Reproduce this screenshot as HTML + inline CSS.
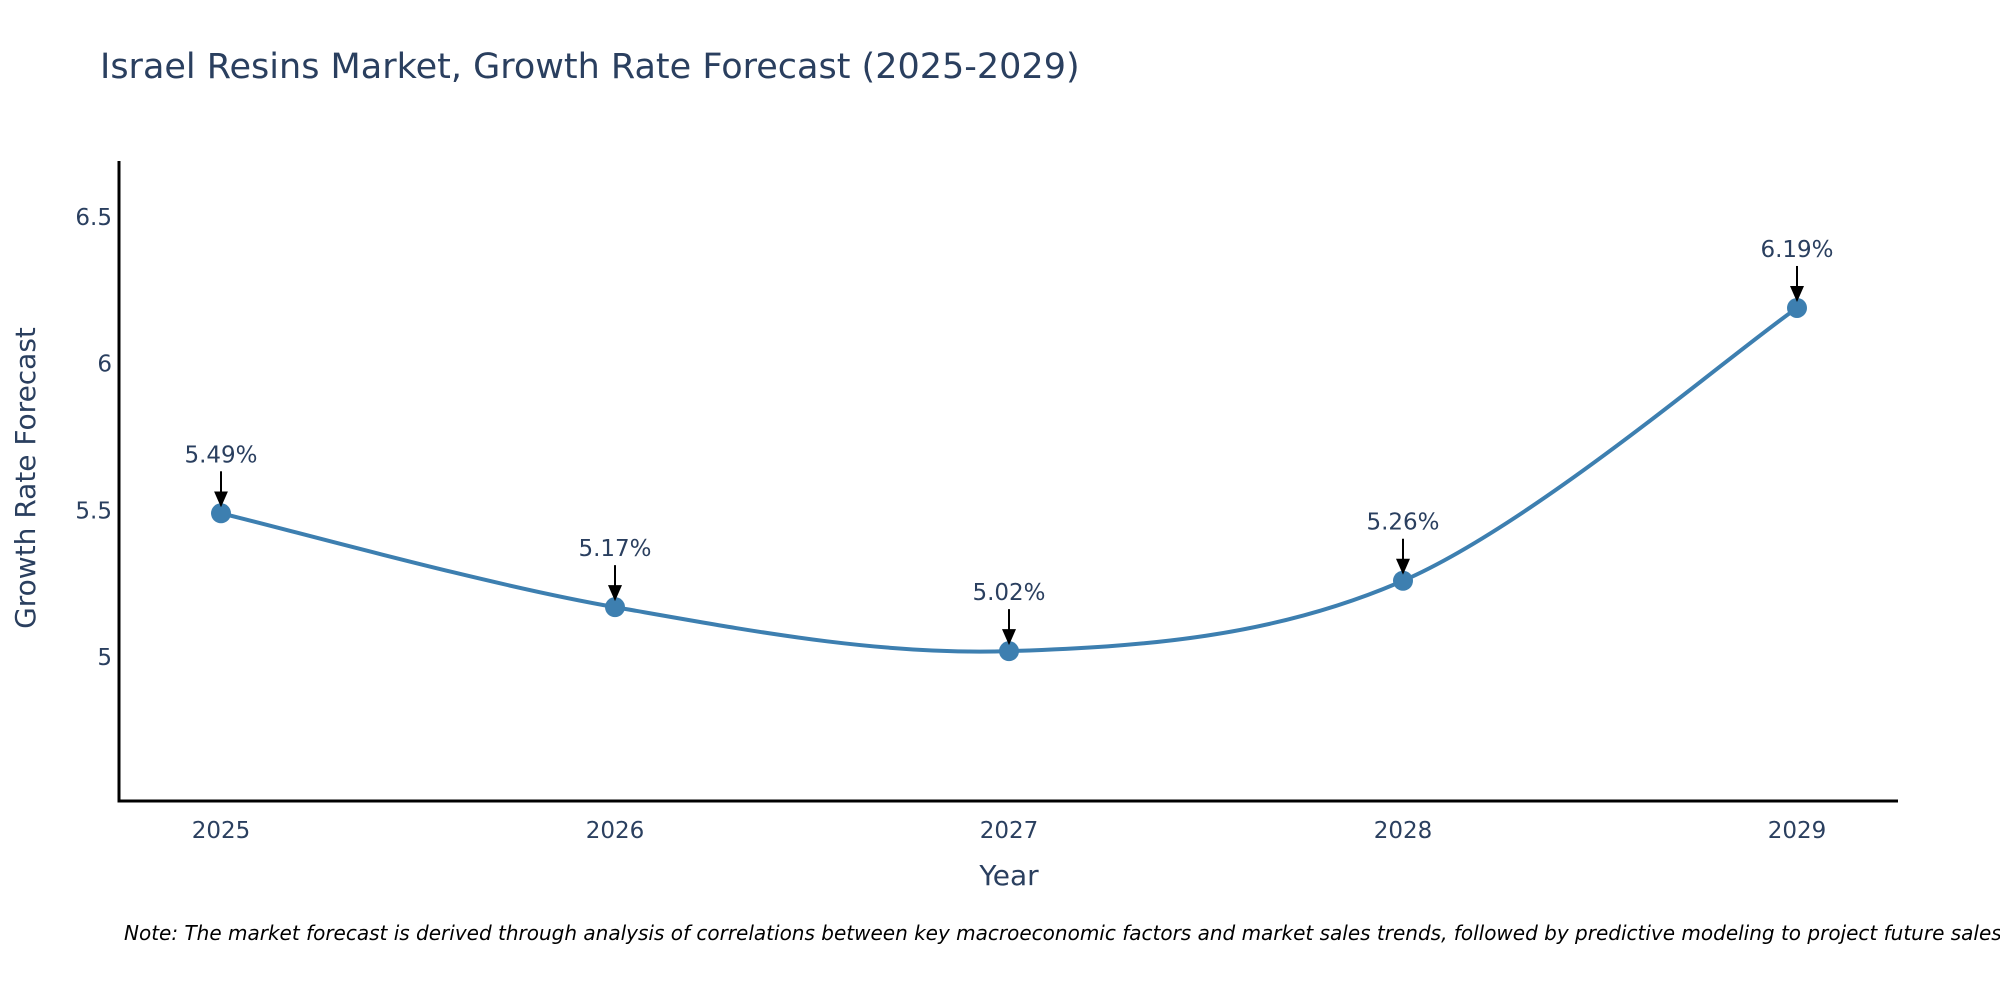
<!DOCTYPE html>
<html><head><meta charset="utf-8"><style>
body{margin:0;background:#fff}
svg text{font-family:"DejaVu Sans","Liberation Sans",sans-serif;fill:#2a3f5f}
</style></head><body>
<svg width="2000" height="1000" viewBox="0 0 2000 1000" xmlns="http://www.w3.org/2000/svg">
<defs><marker id="ah" markerWidth="16" markerHeight="16" refX="14" refY="8" orient="auto" markerUnits="userSpaceOnUse" viewBox="0 0 16 16"><path d="M0,1 L16,8 L0,15 z" fill="#000"/></marker></defs>
<text x="100" y="78" font-size="35">Israel Resins Market, Growth Rate Forecast (2025-2029)</text>
<g id="plot"></g>
<text x="1009" y="885" font-size="28" text-anchor="middle">Year</text>
<text transform="translate(35,478) rotate(-90)" font-size="28" text-anchor="middle">Growth Rate Forecast</text>
<text x="124" y="940" font-size="20" font-style="italic" style="fill:#000">Note: The market forecast is derived through analysis of correlations between key macroeconomic factors and market sales trends, followed by predictive modeling to project future sales.</text>
</svg>
<script>
const years=[2025,2026,2027,2028,2029];
const values=[5.49,5.17,5.02,5.26,6.19];
const labels=["5.49%","5.17%","5.02%","5.26%","6.19%"];
const yTicks=[5,5.5,6,6.5];
const NS="http://www.w3.org/2000/svg";
const X0=119,X1=1898,Y0=801,Y1=161;
const xs=v=>221+(v-2025)*394;
const ys=v=>657-(v-5)*293.3;
const g=document.getElementById('plot');
function mk(t,a,p){const e=document.createElementNS(NS,t);for(const k in a)e.setAttribute(k,a[k]);(p||g).appendChild(e);return e;}
let ax=mk('path',{d:`M${X0},${Y1} L${X0},${Y0} L${X1},${Y0}`,fill:'none',stroke:'#000','stroke-width':3});


yTicks.forEach(t=>{const e=mk('text',{x:112,y:ys(t)+8,'font-size':23,'text-anchor':'end'});e.textContent=String(t);

});
years.forEach(y=>{const e=mk('text',{x:xs(y),y:838,'font-size':23,'text-anchor':'middle'});e.textContent=String(y);

});
const P=years.map((y,i)=>[xs(y),ys(values[i])]);
let d=`M${P[0][0]},${P[0][1]}`;
for(let i=0;i<P.length-1;i++){const p0=P[i-1]||P[i],p1=P[i],p2=P[i+1],p3=P[i+2]||P[i+1];const k=1/6;
d+=` C${p1[0]+(p2[0]-p0[0])*k},${p1[1]+(p2[1]-p0[1])*k} ${p2[0]-(p3[0]-p1[0])*k},${p2[1]-(p3[1]-p1[1])*k} ${p2[0]},${p2[1]}`;}
const line=mk('path',{d:d,fill:'none',stroke:'#3d7fb0','stroke-width':4});


P.forEach((p,i)=>{const c=mk('circle',{cx:p[0],cy:p[1],r:10,fill:'#3d7fb0'});


const a=mk('line',{x1:p[0],y1:p[1]-42,x2:p[0],y2:p[1]-8,stroke:'#000','stroke-width':2,'marker-end':'url(#ah)'});


const t=mk('text',{x:p[0],y:p[1]-51,'font-size':23,'text-anchor':'middle'});t.textContent=labels[i];

});
</script>
</body></html>
